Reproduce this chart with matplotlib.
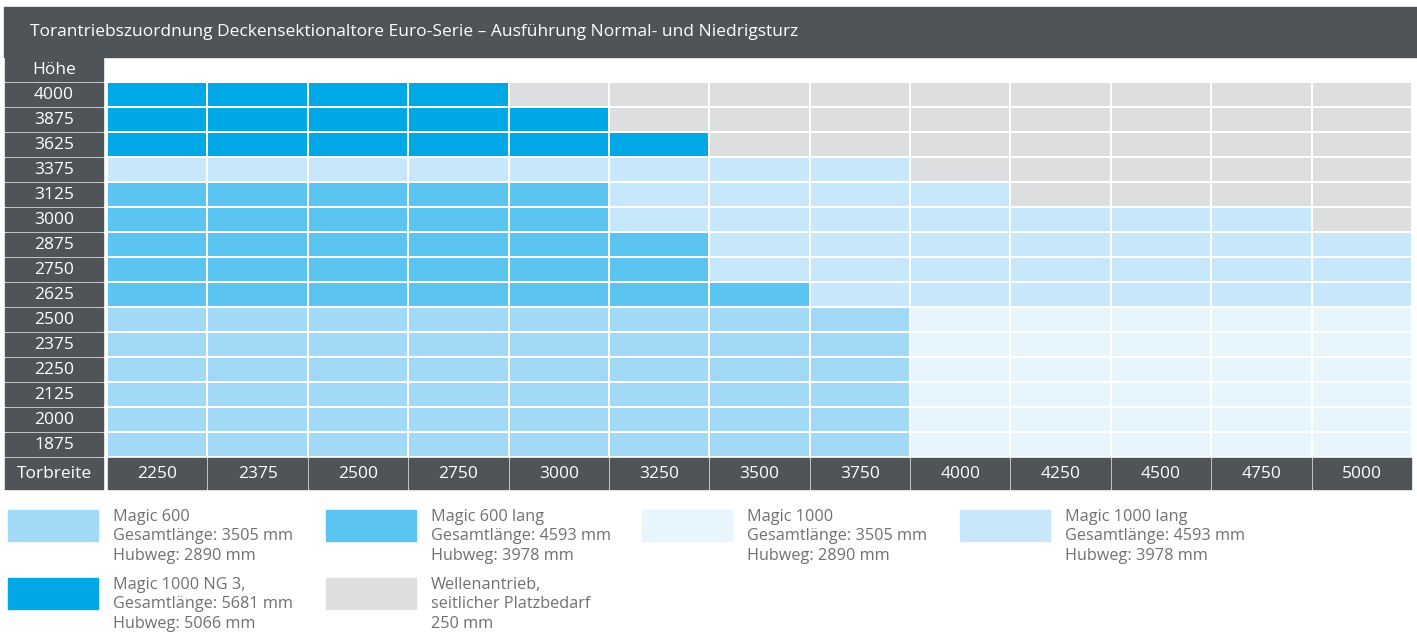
import matplotlib
matplotlib.use("Agg")
import matplotlib.pyplot as plt
import numpy as np
from matplotlib.colors import ListedColormap
from matplotlib.patches import Rectangle

plt.rcParams['font.family'] = ['Open Sans', 'DejaVu Sans']

# data
title = "Torantriebszuordnung Deckensektionaltore Euro-Serie – Ausführung Normal- und Niedrigsturz"
heights = [4000, 3875, 3625, 3375, 3125, 3000, 2875, 2750, 2625, 2500, 2375, 2250, 2125, 2000, 1875]
widths = [2250, 2375, 2500, 2750, 3000, 3250, 3500, 3750, 4000, 4250, 4500, 4750, 5000]

# A = Magic 600, B = Magic 600 lang, C = Magic 1000, D = Magic 1000 lang,
# E = Magic 1000 NG 3, G = Wellenantrieb
grid_rows = [
    "EEEEGGGGGGGGG",
    "EEEEEGGGGGGGG",
    "EEEEEEGGGGGGG",
    "DDDDDDDDGGGGG",
    "BBBBBDDDDGGGG",
    "BBBBBDDDDDDDG",
    "BBBBBBDDDDDDD",
    "BBBBBBDDDDDDD",
    "BBBBBBBDDDDDD",
    "AAAAAAAACCCCC",
    "AAAAAAAACCCCC",
    "AAAAAAAACCCCC",
    "AAAAAAAACCCCC",
    "AAAAAAAACCCCC",
    "AAAAAAAACCCCC",
]

codes = ["A", "B", "C", "D", "E", "G"]
colors = ["#a2d9f6", "#5bc4f1", "#e7f5fc", "#c7e8fa", "#00a8e6", "#dcdee0"]
legend_text = [
    "Magic 600\nGesamtlänge: 3505 mm\nHubweg: 2890 mm",
    "Magic 600 lang\nGesamtlänge: 4593 mm\nHubweg: 3978 mm",
    "Magic 1000\nGesamtlänge: 3505 mm\nHubweg: 2890 mm",
    "Magic 1000 lang\nGesamtlänge: 4593 mm\nHubweg: 3978 mm",
    "Magic 1000 NG 3,\nGesamtlänge: 5681 mm\nHubweg: 5066 mm",
    "Wellenantrieb,\nseitlicher Platzbedarf\n250 mm",
]
legend_order = ["A", "B", "C", "D", "E", "G"]

dark = "#4f5459"
W, H = 1417, 632
fs = 12.5

fig = plt.figure(figsize=(W / 100, H / 100), dpi=100)


def fx(px):
    return px / W


def fy(py):
    return 1 - py / H


# title bar
fig.patches.append(Rectangle((fx(4), fy(57)), fx(W) - fx(4), fy(7) - fy(57),
                             transform=fig.transFigure, color=dark, zorder=0))
fig.text(fx(30), fy(32), title, color="white", fontsize=fs, va="center", ha="left")

# main grid
ax = fig.add_axes([fx(107), fy(457), fx(1412) - fx(107), fy(82) - fy(457)])
mat = np.array([[codes.index(c) for c in row] for row in grid_rows])
cmap = ListedColormap(colors)
ax.pcolormesh(np.arange(len(widths) + 1), np.arange(len(heights) + 1), mat,
              cmap=cmap, vmin=-0.5, vmax=len(codes) - 0.5,
              edgecolors="white", linewidth=1.3)
ax.set_xlim(0, len(widths))
ax.set_ylim(len(heights), 0)
ax.axis("off")

# row labels
lx0, lx1 = -1.016, -0.04
for i, h in enumerate(heights):
    ax.add_patch(Rectangle((lx0, i + 0.04), lx1 - lx0, 0.92, color=dark, clip_on=False))
    ax.text((lx0 + lx1) / 2, i + 0.52, str(h), color="white", fontsize=fs,
            ha="center", va="center", clip_on=False)
ax.add_patch(Rectangle((lx0, -0.96), lx1 - lx0, 0.92, color=dark, clip_on=False))
ax.text((lx0 + lx1) / 2, -0.48, "Höhe", color="white", fontsize=fs,
        ha="center", va="center", clip_on=False)

# column labels
ty0, ty1 = len(heights) + 0.04, len(heights) + 1.28
ax.add_patch(Rectangle((lx0, ty0), lx1 - lx0, ty1 - ty0, color=dark, clip_on=False))
ax.text((lx0 + lx1) / 2, (ty0 + ty1) / 2, "Torbreite", color="white", fontsize=fs,
        ha="center", va="center", clip_on=False)
for j, w in enumerate(widths):
    ax.add_patch(Rectangle((j + 0.01, ty0), 0.98, ty1 - ty0, color=dark, clip_on=False))
    ax.text(j + 0.5, (ty0 + ty1) / 2, str(w), color="white", fontsize=fs,
            ha="center", va="center", clip_on=False)

# legend
col_x = [8, 326, 642, 960]
row_y = [510, 578]
for k, code in enumerate(legend_order):
    r, c = divmod(k, 4)
    x0, y0 = col_x[c], row_y[r]
    fig.patches.append(Rectangle((fx(x0), fy(y0 + 31)), fx(90), fy(0) - fy(31),
                                 transform=fig.transFigure,
                                 color=colors[codes.index(code)]))
    fig.text(fx(x0 + 105), fy(y0 - 1), legend_text[k], color="#707070",
             fontsize=11.7, va="top", ha="left", linespacing=1.28)

fig.savefig("out.png", dpi=100)
plt.close(fig)
